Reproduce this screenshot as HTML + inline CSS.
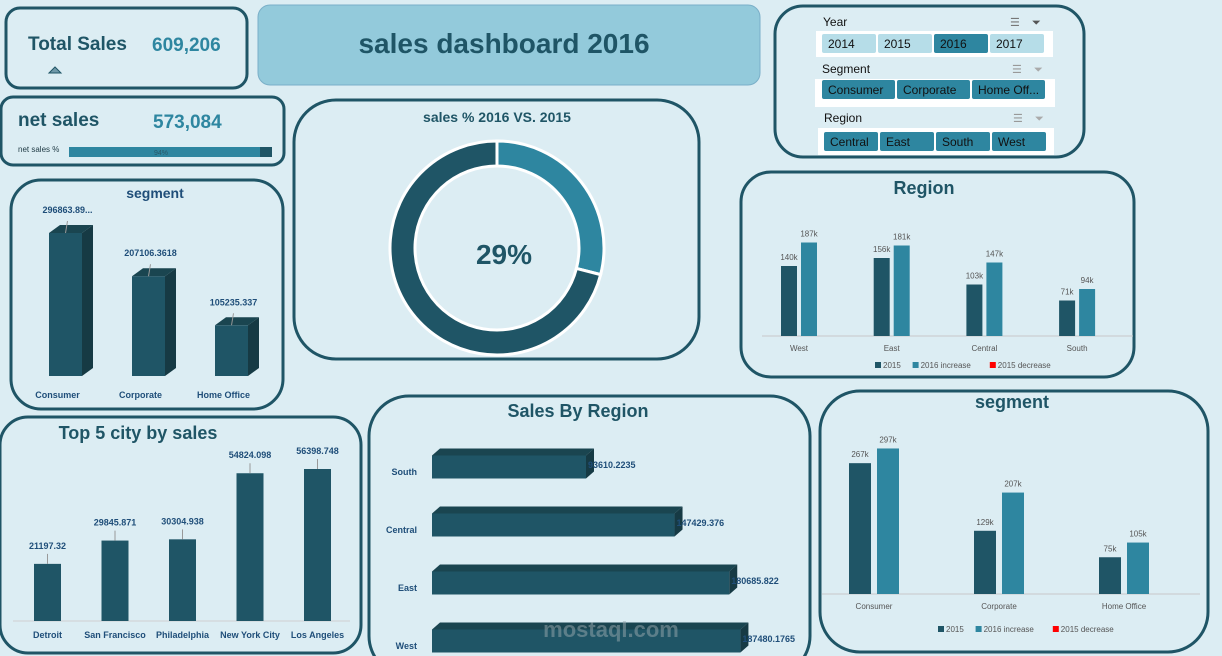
<!DOCTYPE html>
<html><head><meta charset="utf-8">
<style>
html,body{margin:0;padding:0;background:#dcedf3;}
body{width:1222px;height:656px;overflow:hidden;position:relative;font-family:"Liberation Sans",sans-serif;}
svg{position:absolute;left:0;top:0;}
</style></head>
<body>
<svg id="dash" width="1222" height="656" viewBox="0 0 1222 656" font-family="Liberation Sans, sans-serif">
  <rect x="0" y="0" width="1222" height="656" fill="#dcedf3"/>
  <g fill="#dcedf3" stroke="#1f5566" stroke-width="3">
    <rect x="6" y="8" width="241" height="80" rx="14"/>
    <rect x="1" y="97" width="283" height="68" rx="12"/>
    <rect x="294" y="100" width="405" height="259" rx="42"/>
    <rect x="11" y="180" width="272" height="229" rx="30"/>
    <rect x="775" y="6" width="309" height="151" rx="28"/>
    <rect x="741" y="172" width="393" height="205" rx="30"/>
    <rect x="0" y="417" width="361" height="236" rx="28"/>
    <rect x="369" y="396" width="441" height="280" rx="40"/>
    <rect x="820" y="391" width="388" height="261" rx="40"/>
  </g>
  <rect x="258" y="5" width="502" height="80" rx="12" fill="#93cadb" stroke="#7aafc8" stroke-width="1"/>
  <text x="504" y="53" text-anchor="middle" font-size="28" font-weight="bold" fill="#1f5566">sales dashboard 2016</text>

  <text x="28" y="50" font-size="19" font-weight="bold" fill="#1f5566">Total Sales</text>
  <text x="152" y="51" font-size="19" font-weight="bold" fill="#2e86a0">609,206</text>
  <polygon points="49,73 55,67 61,73" fill="#6f98a8" stroke="#1f5566" stroke-width="1"/>
  <text x="18" y="126" font-size="19" font-weight="bold" fill="#1f5566">net sales</text>
  <text x="153" y="128" font-size="19" font-weight="bold" fill="#2e86a0">573,084</text>
  <text x="18" y="152" font-size="8" fill="#1f3a44">net sales %</text>
  <rect x="69" y="147" width="203" height="10" fill="#1f5566"/>
  <rect x="69" y="147" width="191" height="10" fill="#2e86a0"/>
  <text x="161" y="155" font-size="7" fill="#2a5a6a" text-anchor="middle">94%</text>

  <text x="497" y="122" text-anchor="middle" font-size="14" font-weight="bold" fill="#1f5566">sales % 2016 VS. 2015</text>
  <g id="donut"></g>
  <text x="504" y="264" text-anchor="middle" font-size="28" font-weight="bold" fill="#1f5566">29%</text>

  <g>
    <text x="823" y="26" font-size="12" fill="#111">Year</text>
    <text x="1010" y="26" font-size="11" fill="#777">☰</text><text x="1032" y="26" font-size="11" fill="#555">⏷</text>
    <rect x="816" y="31" width="237" height="26" fill="#fff"/>
  </g>
  <g>
    <text x="822" y="73" font-size="12" fill="#111">Segment</text>
    <text x="1012" y="73" font-size="11" fill="#999">☰</text><text x="1034" y="73" font-size="11" fill="#aaa">⏷</text>
    <rect x="815" y="79" width="240" height="28" fill="#fff"/>
  </g>
  <g>
    <text x="824" y="122" font-size="12" fill="#111">Region</text>
    <text x="1013" y="122" font-size="11" fill="#999">☰</text><text x="1035" y="122" font-size="11" fill="#aaa">⏷</text>
    <rect x="818" y="128" width="236" height="27" fill="#fff"/>
  </g>
  <g id="slicerBtns"></g>

  <text x="155" y="198" text-anchor="middle" font-size="14" font-weight="bold" fill="#1f4e79">segment</text>
  <g id="segTop"></g>

  <text x="924" y="194" text-anchor="middle" font-size="18" font-weight="bold" fill="#1f5566">Region</text>
  <g id="regionChart"></g>

  <text x="138" y="439" text-anchor="middle" font-size="18" font-weight="bold" fill="#1f5566">Top 5 city by sales</text>
  <g id="cityChart"></g>

  <text x="578" y="417" text-anchor="middle" font-size="18" font-weight="bold" fill="#1f5566">Sales By Region</text>
  <g id="hbarChart"></g>

  <text x="1012" y="408" text-anchor="middle" font-size="18" font-weight="bold" fill="#1f5566">segment</text>
  <g id="segBottom"></g>

  <text x="611" y="637" text-anchor="middle" font-size="22" font-weight="bold" fill="#9aa9ae" opacity="0.5">mostaql.com</text>
</svg>
<script>
const NS="http://www.w3.org/2000/svg";
const donutPct = 29;
const yearOptions = ["2014","2015","2016","2017"];
const segmentOptions = ["Consumer","Corporate","Home Off..."];
const regionOptions = ["Central","East","South","West"];
const segCats = ["Consumer","Corporate","Home Office"];
const segValues = [296863.89, 207106.3618, 105235.337];
const segLabels = ["296863.89...","207106.3618","105235.337"];
const regionCats = ["West","East","Central","South"];
const region2015 = [140,156,103,71];
const region2016 = [187,181,147,94];
const cityCats = ["Detroit","San Francisco","Philadelphia","New York City","Los Angeles"];
const cityValues = [21197.32, 29845.871, 30304.938, 54824.098, 56398.748];
const hbarCats = ["South","Central","East","West"];
const hbarValues = [93610.2235, 147429.376, 180685.822, 187480.1765];
const segB2015 = [267,129,75];
const segB2016 = [297,207,105];

function mk(tag,attrs,parent,txt){const e=document.createElementNS(NS,tag);for(const k in attrs)e.setAttribute(k,attrs[k]);if(txt!==undefined)e.textContent=txt;parent.appendChild(e);return e;}
const DARK="#1f5566", LIGHT="#2e86a0", SIDE="#163a44", TOPF="#1a4550";

(function(){
  const g=document.getElementById('donut');const cx=497,cy=248,R=107,r=82;
  function arc(a0,a1,col,name){
    const p=(a,rad)=>[cx+rad*Math.sin(a),cy-rad*Math.cos(a)];
    const large=(a1-a0)>Math.PI?1:0;
    const [x0,y0]=p(a0,R),[x1,y1]=p(a1,R),[x2,y2]=p(a1,r),[x3,y3]=p(a0,r);
    const e=mk('path',{d:`M${x0},${y0}A${R},${R} 0 ${large} 1 ${x1},${y1}L${x2},${y2}A${r},${r} 0 ${large} 0 ${x3},${y3}Z`,fill:col,stroke:'#fff','stroke-width':3},g);
    
    
  }
  const a=donutPct/100*2*Math.PI;
  arc(0,a,LIGHT,'donut-slice-growth');
  arc(a,2*Math.PI-0.0001,DARK,'donut-slice-rest');
})();

(function(){
  const g=document.getElementById('slicerBtns');
  function row(opts,x0,y,w,gap,sel,prefix){
    opts.forEach((o,i)=>{
      const x=x0+i*(w+gap);const on=sel(i);
      const r=mk('rect',{x:x,y:y,width:w,height:19,rx:2,fill:on?LIGHT:'#b6dde8'},g);
      
      
      mk('text',{x:x+6,y:y+14,'font-size':12,fill:'#111'},g,o);
    });
  }
  row(yearOptions,822,34,54,2,i=>i===2,'year');
  row(segmentOptions,822,80,73,2,()=>true,'segment');
  row(regionOptions,824,132,54,2,()=>true,'region');
})();

(function(){
  const g=document.getElementById('segTop');const base=376,k=143/296863.89,w=33,dx=11,dy=8;
  const xs=i=>49+i*83;
  segValues.forEach((v,i)=>{
    const x=xs(i),h=v*k,t=base-h;
    const b=mk('rect',{x:x,y:t,width:w,height:h,fill:DARK},g);
    
    
    mk('polygon',{points:`${x+w},${t} ${x+w+dx},${t-dy} ${x+w+dx},${base-dy} ${x+w},${base}`,fill:SIDE},g);
    mk('polygon',{points:`${x},${t} ${x+dx},${t-dy} ${x+w+dx},${t-dy} ${x+w},${t}`,fill:TOPF},g);
    mk('line',{x1:x+w/2,y1:t,x2:x+w/2+2,y2:t-12,stroke:'#999','stroke-width':1},g);
    mk('text',{x:x+w/2+2,y:t-20,'text-anchor':'middle','font-size':9,'font-weight':'bold',fill:'#1f4e79'},g,segLabels[i]);
    mk('text',{x:x+w/2-8,y:398,'text-anchor':'middle','font-size':9,'font-weight':'bold',fill:'#1f4e79'},g,segCats[i]);
  });
})();

function grouped(gid,cats,s1,s2,base,k,cx0,step,bw,gap,axX0,axX1,labY,legY,legX,prefix){
  const g=document.getElementById(gid);
  mk('line',{x1:axX0,y1:base,x2:axX1,y2:base,stroke:'#c8c8c8','stroke-width':1},g);
  cats.forEach((c,i)=>{
    const cx=cx0+i*step;
    [[s1,DARK,-1],[s2,LIGHT,1]].forEach(([s,col,sd],j)=>{
      const x=sd<0?cx-gap/2-bw:cx+gap/2;const h=s[i]*k;
      const b=mk('rect',{x:x,y:base-h,width:bw,height:h,fill:col},g);
      
      
      mk('text',{x:x+bw/2,y:base-h-6,'text-anchor':'middle','font-size':8,fill:'#555'},g,s[i]+'k');
    });
    mk('text',{x:cx,y:labY,'text-anchor':'middle','font-size':8,fill:'#555'},g,c);
  });
  const items=[['2015',DARK],['2016 increase',LIGHT],['2015 decrease','#ff0000']];
  let x=legX;
  items.forEach(([t,col])=>{
    const r=mk('rect',{x:x,y:legY-6,width:6,height:6,fill:col},g);
    
    
    mk('text',{x:x+8,y:legY,'font-size':8,fill:'#555'},g,t);
    x+=t.length*4.4+20;
  });
}
grouped('regionChart',regionCats,region2015,region2016,336,0.5,799,92.7,16,4,762,1133,351,368,875,'region');
grouped('segBottom',segCats,segB2015,segB2016,594,0.49,874,125,22,6,822,1200,609,632,938,'segment-bottom');

(function(){
  const g=document.getElementById('cityChart');const base=621,k=152/56398.748,w=27;
  mk('line',{x1:13,y1:base,x2:350,y2:base,stroke:'#d0d0d0','stroke-width':1},g);
  cityCats.forEach((c,i)=>{
    const cx=47.5+i*67.5,h=cityValues[i]*k,t=base-h;
    const b=mk('rect',{x:cx-w/2,y:t,width:w,height:h,fill:DARK},g);
    
    
    mk('line',{x1:cx,y1:t,x2:cx,y2:t-10,stroke:'#999','stroke-width':1},g);
    mk('text',{x:cx,y:t-15,'text-anchor':'middle','font-size':9,'font-weight':'bold',fill:'#1f4e79'},g,String(cityValues[i]));
    mk('text',{x:cx,y:638,'text-anchor':'middle','font-size':9,'font-weight':'bold',fill:'#1f4e79'},g,c);
  });
})();

(function(){
  const g=document.getElementById('hbarChart');const x0=432,k=154/93610.2235,h=23,dx=8,dy=7;
  hbarCats.forEach((c,i)=>{
    const yc=466+i*58,y=yc-h/2+1,w=hbarValues[i]*k;
    mk('polygon',{points:`${x0},${y} ${x0+dx},${y-dy} ${x0+w+dx},${y-dy} ${x0+w},${y}`,fill:TOPF},g);
    mk('polygon',{points:`${x0+w},${y} ${x0+w+dx},${y-dy} ${x0+w+dx},${y+h-dy} ${x0+w},${y+h}`,fill:SIDE},g);
    const b=mk('rect',{x:x0,y:y,width:w,height:h,fill:DARK},g);
    
    
    mk('text',{x:417,y:yc+9,'text-anchor':'end','font-size':9,'font-weight':'bold',fill:'#1f4e79'},g,c);
    mk('text',{x:x0+w+2,y:yc+2,'font-size':9,'font-weight':'bold',fill:'#1f4e79'},g,String(hbarValues[i]));
  });
})();
</script>
</body></html>
